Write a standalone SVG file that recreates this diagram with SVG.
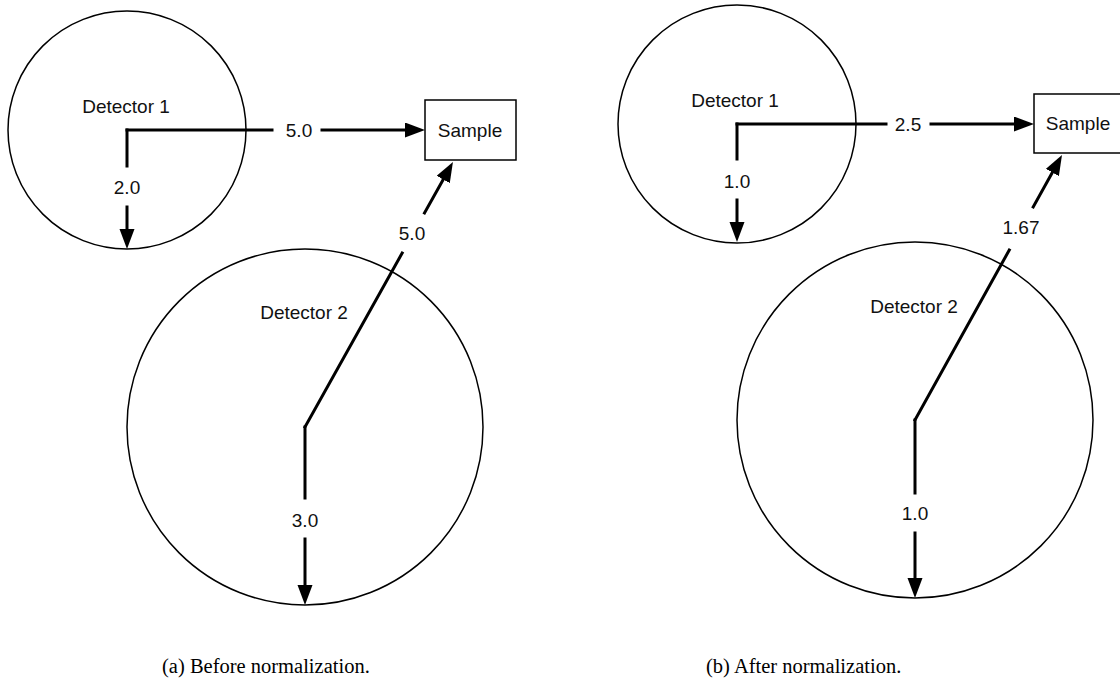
<svg xmlns="http://www.w3.org/2000/svg" width="1120" height="694" viewBox="0 0 1120 694">
  <style>
    .det { fill: none; stroke: #000; stroke-width: 1.5; }
    .box { fill: #fff; stroke: #000; stroke-width: 1.5; }
    .lbl { font-family: "Liberation Sans", Arial, sans-serif; font-size: 19px; fill: #111; text-anchor: middle; }
    .edge { fill: none; stroke: #000; stroke-width: 3; stroke-linecap: square; marker-end: url(#head); }
    .cap { font-family: "Liberation Serif", "Times New Roman", serif; font-size: 20.5px; fill: #000; }
  </style>
  <defs>
    <marker id="head" markerUnits="userSpaceOnUse" markerWidth="21" markerHeight="16" refX="0" refY="7.5" orient="auto">
      <path d="M0,0 L20,7.5 L0,15 z" fill="#000"/>
    </marker>
  </defs>
  <rect width="1120" height="694" fill="#fff"/>

  <!-- (a) before normalization -->
  <g id="a-detector1"><circle class="det" cx="127" cy="130" r="119"/><text class="lbl" x="126" y="113">Detector 1</text></g>
  <g id="a-detector2"><circle class="det" cx="305" cy="427" r="178"/><text class="lbl" x="304" y="319">Detector 2</text></g>
  <g id="a-sample"><rect class="box" x="425" y="100" width="91" height="60"/><text class="lbl" x="470" y="137">Sample</text></g>
  <g id="a-edges">
    <path class="edge" d="M127,130 H272 M322,130 H405"/>
    <text class="lbl" x="299" y="137">5.0</text>
    <path class="edge" d="M127,130 V166 M127,207 V229"/>
    <text class="lbl" x="127" y="194">2.0</text>
    <path class="edge" d="M305,427 L402.2,253 M424.5,213 L443.2,179.5"/>
    <text class="lbl" x="412" y="240">5.0</text>
    <path class="edge" d="M305,427 V498 M305,539 V585"/>
    <text class="lbl" x="305" y="527">3.0</text>
  </g>

  <!-- (b) after normalization -->
  <g id="b-detector1"><circle class="det" cx="737" cy="124" r="119"/><text class="lbl" x="735" y="107">Detector 1</text></g>
  <g id="b-detector2"><circle class="det" cx="915" cy="420" r="178"/><text class="lbl" x="914" y="313">Detector 2</text></g>
  <g id="b-sample"><rect class="box" x="1034" y="94" width="91" height="59"/><text class="lbl" x="1078" y="130">Sample</text></g>
  <g id="b-edges">
    <path class="edge" d="M737,124 H886 M931,124 H1014"/>
    <text class="lbl" x="908" y="131">2.5</text>
    <path class="edge" d="M737,124 V159 M737,200 V222"/>
    <text class="lbl" x="737" y="188">1.0</text>
    <path class="edge" d="M915,420 L1009.3,250 M1033.2,207 L1052.3,172.5"/>
    <text class="lbl" x="1021" y="234">1.67</text>
    <path class="edge" d="M915,420 V493 M915,533 V578"/>
    <text class="lbl" x="915" y="520">1.0</text>
  </g>

  <text class="cap" x="162" y="673">(a) Before normalization.</text>
  <text class="cap" x="706" y="673">(b) After normalization.</text>
</svg>
